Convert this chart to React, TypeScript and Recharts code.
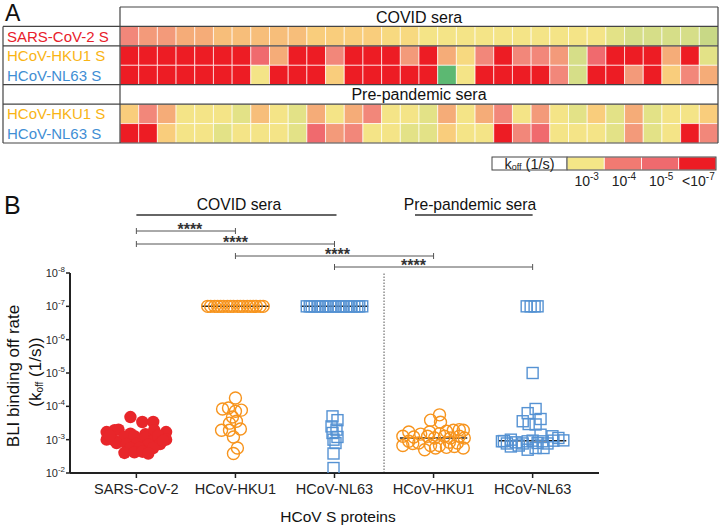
import React from 'react';
import { ScatterChart, Scatter, XAxis, YAxis, ReferenceLine } from 'recharts';

const FONT = '"Liberation Sans", Arial, Helvetica, sans-serif';
const INK = '#222';

// ---------- Panel A: k_off heat map (32 sera per row) ----------
const covidRowLabels = ['SARS-CoV-2 S', 'HCoV-HKU1 S', 'HCoV-NL63 S'];
const covidRowColors = ['#E8202A', '#F9B414', '#3F8ED4'];
const preRowLabels = ['HCoV-HKU1 S', 'HCoV-NL63 S'];
const preRowColors = ['#F9B414', '#3F8ED4'];

// one letter per serum, mapped through cellPalette
const sarsCovidCells = 'PQQOONNNNNLLLLMMYYYYYYYYYYGHHHHJ';
const hku1CovidCells = 'RRRRRRRSORRPRRRQROMPRPPQHSRRRORG';
const nl63CovidCells = 'RRRRRRRYRRRLRRRRRKYRRRRPHRRQRLPO';
const hku1PreCells = 'LPOYYYGNYGOYOPYYGOYOPYQYGLGOGYYL';
const nl63PreCells = 'RRLYYGYYYGSQPYYGGLYYRPSYYYGQGYRP';

const cellPalette: Record<string, string> = {
  R: '#ED1C24',
  S: '#F06A6E',
  P: '#F2877A',
  Q: '#F39A7A',
  O: '#F5AC78',
  N: '#F7BE7A',
  L: '#F9CD7C',
  M: '#F7D980',
  Y: '#F4E487',
  G: '#E3E287',
  H: '#D6DE88',
  J: '#C8D886',
  K: '#5CB872',
};

const koffLegendColors = ['#F4E687', '#F27A72', '#EF6A6E', '#ED1C24'];
const koffLegendExps = ['-3', '-4', '-5', '-7'];
const koffLegendPrefix = ['', '', '', '<'];

// ---------- Panel B: BLI off rates ----------
const groupLabels = ['SARS-CoV-2', 'HCoV-HKU1', 'HCoV-NL63', 'HCoV-HKU1', 'HCoV-NL63'];
const yTicks = [1e-8, 1e-7, 1e-6, 1e-5, 1e-4, 1e-3, 1e-2];

const sarsJitter = [-0.06, 0.06, 0.17, -0.3, -0.22, -0.18, -0.06, 0.09, 0.18, 0.3, -0.3, -0.22, -0.12, -0.02, 0.09, 0.18, 0.22, 0.3, -0.2, -0.1, 0.0, 0.12, 0.24, -0.06, 0.03, 0.17, -0.12, -0.02, 0.06, 0.12, -0.27, 0.27];
const sarsKoff = [2.1e-4, 2.95e-4, 2.95e-4, 5.9e-4, 5.2e-4, 5.0e-4, 6.6e-4, 6.9e-4, 5.2e-4, 5.9e-4, 1.0e-3, 1.07e-3, 8.3e-4, 7.9e-4, 8.9e-4, 1.0e-3, 7.6e-4, 1.0e-3, 1.26e-3, 1.35e-3, 1.35e-3, 1.41e-3, 1.35e-3, 1.78e-3, 1.78e-3, 1.78e-3, 2.5e-3, 2.4e-3, 2.3e-3, 2.6e-3, 7.6e-4, 1.07e-3];

const hku1CovidJitter = [-0.28, -0.25, -0.21, -0.18, -0.15, -0.12, -0.08, -0.05, -0.02, 0.02, 0.05, 0.08, 0.12, 0.15, 0.18, 0.21, 0.25, 0.28, 0.0, -0.13, -0.07, 0.0, 0.06, -0.03, -0.06, 0.01, -0.14, -0.06, 0.05, -0.02, 0.02, -0.02];
const hku1CovidKoff = [1e-7, 1e-7, 1e-7, 1e-7, 1e-7, 1e-7, 1e-7, 1e-7, 1e-7, 1e-7, 1e-7, 1e-7, 1e-7, 1e-7, 1e-7, 1e-7, 1e-7, 1e-7, 5.6e-5, 1.2e-4, 1.12e-4, 1.4e-4, 1.3e-4, 2.1e-4, 3.2e-4, 2.8e-4, 5.2e-4, 5.2e-4, 4.8e-4, 8.3e-4, 1.78e-3, 2.6e-3];

const nl63CovidJitter = [-0.28, -0.25, -0.23, -0.2, -0.17, -0.15, -0.12, -0.09, -0.07, -0.04, -0.01, 0.01, 0.04, 0.07, 0.09, 0.12, 0.15, 0.17, 0.2, 0.23, 0.25, 0.28, -0.02, 0.03, -0.03, 0.02, -0.02, 0.03, -0.01, 0.01, -0.01, -0.01];
const nl63CovidKoff = [1e-7, 1e-7, 1e-7, 1e-7, 1e-7, 1e-7, 1e-7, 1e-7, 1e-7, 1e-7, 1e-7, 1e-7, 1e-7, 1e-7, 1e-7, 1e-7, 1e-7, 1e-7, 1e-7, 1e-7, 1e-7, 1e-7, 2.0e-4, 2.6e-4, 4.0e-4, 5.0e-4, 6.3e-4, 8.3e-4, 1.0e-3, 1.26e-3, 2.6e-3, 7.1e-3];

const hku1PreJitter = [-0.03, 0.06, 0.07, -0.25, -0.13, -0.04, 0.06, 0.13, 0.2, 0.26, 0.3, -0.31, -0.2, -0.06, 0.01, 0.11, 0.17, 0.26, 0.31, -0.31, -0.21, -0.15, -0.03, 0.06, 0.13, 0.21, 0.3, 0.24, -0.09, 0.02, -0.25, 0.16];
const hku1PreKoff = [2.6e-4, 1.8e-4, 3.0e-4, 5.9e-4, 6.8e-4, 5.9e-4, 6.6e-4, 5.6e-4, 5.2e-4, 5.0e-4, 5.2e-4, 7.9e-4, 8.3e-4, 7.9e-4, 8.9e-4, 7.9e-4, 8.9e-4, 7.9e-4, 8.9e-4, 1.5e-3, 1.3e-3, 1.26e-3, 1.5e-3, 1.5e-3, 1.7e-3, 1.6e-3, 1.78e-3, 1.26e-3, 2.0e-3, 1.78e-3, 1.12e-3, 1.2e-3];

const nl63PreJitter = [-0.06, -0.02, 0.02, 0.05, 0.0, 0.03, -0.05, 0.08, -0.1, -0.04, 0.03, 0.08, 0.2, 0.26, 0.31, -0.31, -0.22, -0.17, -0.1, -0.05, 0.0, 0.05, 0.1, 0.15, 0.21, -0.26, -0.22, -0.14, -0.05, 0.03, 0.11, -0.29];
const nl63PreKoff = [1e-7, 1e-7, 1e-7, 1e-7, 1e-5, 1.2e-4, 1.6e-4, 2.4e-4, 2.8e-4, 3.4e-4, 3.5e-4, 7.1e-4, 7.9e-4, 8.9e-4, 1.05e-3, 1.12e-3, 1.0e-3, 1.2e-3, 1.3e-3, 1.12e-3, 1.07e-3, 1.26e-3, 1.12e-3, 1.3e-3, 1.07e-3, 1.3e-3, 1.6e-3, 1.5e-3, 2.0e-3, 1.78e-3, 1.78e-3, 1.1e-3];

const groupMedians = [1.05e-3, 1e-7, 1e-7, 8.9e-4, 1.07e-3];

// significance brackets between groups (1-based group positions)
const sigPairs = [[1, 2], [1, 3], [2, 4], [3, 5]];
const sigLabels = ['****', '****', '****', '****'];

// ---------- layout ----------
const HM_LEFT = 120;
const HM_RIGHT = 718;
const HM_TOP = 7;
const HM_BOTTOM = 143;
const N_COLS = 32;
const N_ROWS = 7;
const CELL_W = (HM_RIGHT - HM_LEFT) / N_COLS;
const CELL_H = (HM_BOTTOM - HM_TOP) / N_ROWS;
const rowMid = (slot: number) => HM_TOP + (slot + 0.5) * CELL_H;
const rowEdge = (slot: number) => HM_TOP + slot * CELL_H;

const B_TOP = 185;
const B_MARGIN = { top: 88, right: 121, bottom: 27, left: 0 };
const X_DOMAIN: [number, number] = [0.33, 5.67];
const PLOT_LEFT = 70;
const PLOT_RIGHT = 720 - B_MARGIN.right;
const PX_PER_UNIT = (PLOT_RIGHT - PLOT_LEFT) / (X_DOMAIN[1] - X_DOMAIN[0]);
const xPix = (v: number) => PLOT_LEFT + (v - X_DOMAIN[0]) * PX_PER_UNIT;

const heatRows = [
  { slot: 1, cells: sarsCovidCells },
  { slot: 2, cells: hku1CovidCells },
  { slot: 3, cells: nl63CovidCells },
  { slot: 5, cells: hku1PreCells },
  { slot: 6, cells: nl63PreCells },
];
const heatData = heatRows.flatMap((row) =>
  row.cells.split('').map((code, col) => ({ x: col + 0.5, y: row.slot + 0.5, fill: cellPalette[code] }))
);

const toPoints = (group: number, jitter: number[], koff: number[]) =>
  koff.map((k, i) => ({ x: group + jitter[i], y: k }));

const sarsPts = toPoints(1, sarsJitter, sarsKoff);
const hku1CovidPts = toPoints(2, hku1CovidJitter, hku1CovidKoff);
const nl63CovidPts = toPoints(3, nl63CovidJitter, nl63CovidKoff);
const hku1PrePts = toPoints(4, hku1PreJitter, hku1PreKoff);
const nl63PrePts = toPoints(5, nl63PreJitter, nl63PreKoff);
const medianPts = groupMedians.map((m, i) => ({ x: i + 1, y: m }));

const HeatCell = (p: any) => (
  <rect
    x={p.cx - CELL_W / 2}
    y={p.cy - CELL_H / 2}
    width={CELL_W}
    height={CELL_H}
    fill={p.payload.fill}
    stroke="#fff"
    strokeOpacity={0.65}
    strokeWidth={1}
  />
);

const RedDot = (p: any) => <circle cx={p.cx} cy={p.cy} r={6.2} fill="#E8262A" />;
const OrangeRing = (p: any) => (
  <circle cx={p.cx} cy={p.cy} r={6} fill="none" stroke="#F7941D" strokeWidth={1.4} />
);
const BlueSquare = (p: any) => (
  <rect x={p.cx - 5.5} y={p.cy - 5.5} width={11} height={11} fill="none" stroke="#5592D3" strokeWidth={1.4} />
);
const MedianBar = (p: any) => (
  <line x1={p.cx - 0.34 * PX_PER_UNIT} x2={p.cx + 0.34 * PX_PER_UNIT} y1={p.cy} y2={p.cy} stroke={INK} strokeWidth={1.5} />
);

const PowerTick = ({ x, y, payload }: any) => {
  const exp = Math.round(Math.log10(payload.value));
  return (
    <text x={x} y={y + 4} textAnchor="end" fontSize={11} fill="#2a2a2a" fontFamily={FONT}>
      10
      <tspan dy={-5} fontSize={8}>
        {exp}
      </tspan>
    </text>
  );
};

const Annotations = () => {
  const line = '#444';
  const hLines = [1, 2, 4, 5, 7];
  const legX = 492;
  const legLabelW = 75;
  const legCellW = (716 - legX - legLabelW) / koffLegendColors.length;
  const starShift = [4, 0, 3, -20];
  const bracketY = [231, 244, 256, 267];
  return (
    <svg width={720} height={530} style={{ position: 'absolute', left: 0, top: 0, pointerEvents: 'none' }} fontFamily={FONT}>
      {/* panel A */}
      <text x={5} y={21} fontSize={23} fill="#111">A</text>
      <line x1={HM_LEFT} x2={HM_RIGHT} y1={HM_TOP} y2={HM_TOP} stroke={line} strokeWidth={1.2} />
      {hLines.map((s) => (
        <line key={s} x1={3} x2={HM_RIGHT} y1={rowEdge(s)} y2={rowEdge(s)} stroke={line} strokeWidth={1.2} />
      ))}
      <line x1={3} x2={3} y1={rowEdge(1)} y2={HM_BOTTOM} stroke={line} strokeWidth={1.2} />
      <line x1={HM_LEFT} x2={HM_LEFT} y1={HM_TOP} y2={HM_BOTTOM} stroke={line} strokeWidth={1.2} />
      <line x1={HM_RIGHT} x2={HM_RIGHT} y1={HM_TOP} y2={HM_BOTTOM} stroke={line} strokeWidth={1.2} />
      <text x={(HM_LEFT + HM_RIGHT) / 2} y={rowMid(0) + 6} textAnchor="middle" fontSize={16} fill="#111">COVID sera</text>
      <text x={(HM_LEFT + HM_RIGHT) / 2} y={rowMid(4) + 6} textAnchor="middle" fontSize={16} fill="#111">Pre-pandemic sera</text>
      {covidRowLabels.map((t, i) => (
        <text key={'c' + i} x={7} y={rowMid(i + 1) + 5.5} fontSize={15} fill={covidRowColors[i]}>{t}</text>
      ))}
      {preRowLabels.map((t, i) => (
        <text key={'p' + i} x={7} y={rowMid(i + 5) + 5.5} fontSize={15} fill={preRowColors[i]}>{t}</text>
      ))}

      {/* k_off legend */}
      <rect x={legX} y={157} width={legLabelW} height={13} fill="#fff" stroke={line} strokeWidth={1} />
      <text x={legX + legLabelW / 2} y={168.5} textAnchor="middle" fontSize={14.5} fill="#222">
        k<tspan fontSize={9} dy={1}>off</tspan>
        <tspan dy={-1}> (1/s)</tspan>
      </text>
      {koffLegendColors.map((c, i) => (
        <rect key={c} x={legX + legLabelW + i * legCellW} y={157} width={legCellW} height={13} fill={c} stroke="#fff" strokeWidth={0.8} />
      ))}
      <rect x={legX + legLabelW} y={157} width={legCellW * 4} height={13} fill="none" stroke={line} strokeWidth={1} />
      {koffLegendExps.map((e, i) => (
        <text key={e} x={legX + legLabelW + (i + 0.5) * legCellW + 1} y={186} textAnchor="middle" fontSize={14} fill="#222">
          {koffLegendPrefix[i]}10<tspan dy={-6} fontSize={10}>{e}</tspan>
        </text>
      ))}

      {/* panel B */}
      <text x={4} y={214} fontSize={25} fill="#111">B</text>
      <text x={239} y={210} textAnchor="middle" fontSize={15.7} fill="#111">COVID sera</text>
      <line x1={xPix(1)} x2={xPix(3) + 2} y1={215} y2={215} stroke="#333" strokeWidth={1.5} />
      <text x={470} y={210} textAnchor="middle" fontSize={15.7} fill="#111">Pre-pandemic sera</text>
      <line x1={415} x2={xPix(5)} y1={215} y2={215} stroke="#333" strokeWidth={1.5} />
      {sigPairs.map(([a, b], i) => {
        const x1 = xPix(a);
        const x2 = xPix(b);
        const y = bracketY[i];
        return (
          <g key={i}>
            <line x1={x1} x2={x2} y1={y} y2={y} stroke="#555" strokeWidth={1} />
            <line x1={x1} x2={x1} y1={y - 3} y2={y + 3} stroke="#555" strokeWidth={1} />
            <line x1={x2} x2={x2} y1={y - 3} y2={y + 3} stroke="#555" strokeWidth={1} />
            <text x={(x1 + x2) / 2 + starShift[i]} y={y + 4} textAnchor="middle" fontSize={16} fontWeight="bold" fill="#333">
              {sigLabels[i]}
            </text>
          </g>
        );
      })}
      <text transform="translate(19,376) rotate(-90)" textAnchor="middle" fontSize={17} fill="#111">
        BLI binding off rate
      </text>
      <text transform="translate(41,372) rotate(-90)" textAnchor="middle" fontSize={17} fill="#111">
        (k<tspan fontSize={10} dy={2}>off</tspan>
        <tspan dy={-2}> (1/s))</tspan>
      </text>
      <text x={338} y={522} textAnchor="middle" fontSize={15.5} fill="#111">HCoV S proteins</text>
    </svg>
  );
};

export default function App() {
  return (
    <div style={{ position: 'absolute', left: 0, top: 0, width: 720, height: 530, background: '#fff', fontFamily: FONT }}>
      <div style={{ position: 'absolute', left: 0, top: 0 }}>
        <ScatterChart width={720} height={150} margin={{ top: HM_TOP, right: 720 - HM_RIGHT, bottom: 150 - HM_BOTTOM, left: HM_LEFT }}>
          <XAxis type="number" dataKey="x" domain={[0, N_COLS]} hide allowDataOverflow />
          <YAxis type="number" dataKey="y" domain={[0, N_ROWS]} reversed hide allowDataOverflow />
          <Scatter data={heatData} shape={HeatCell} isAnimationActive={false} />
        </ScatterChart>
      </div>
      <div style={{ position: 'absolute', left: 0, top: B_TOP }}>
        <ScatterChart width={720} height={345} margin={B_MARGIN}>
          <XAxis
            type="number"
            dataKey="x"
            domain={X_DOMAIN}
            ticks={[1, 2, 3, 4, 5]}
            interval={0}
            allowDataOverflow
            height={30}
            tickFormatter={(v: number) => groupLabels[Math.round(v) - 1]}
            axisLine={{ stroke: INK, strokeWidth: 2 }}
            tickLine={{ stroke: INK, strokeWidth: 1.5 }}
            tickSize={5}
            tickMargin={6}
            tick={{ fontSize: 14.5, fill: INK, fontFamily: FONT }}
          />
          <YAxis
            type="number"
            dataKey="y"
            scale="log"
            domain={[1e-8, 1e-2]}
            reversed
            ticks={yTicks}
            interval={0}
            allowDataOverflow
            width={PLOT_LEFT}
            axisLine={{ stroke: INK, strokeWidth: 2 }}
            tickLine={{ stroke: INK, strokeWidth: 1.5 }}
            tickSize={4}
            tickMargin={1}
            tick={<PowerTick />}
          />
          <ReferenceLine x={3.5} stroke="#555" strokeDasharray="1.5 1.5" />
          <Scatter data={medianPts} shape={MedianBar} isAnimationActive={false} />
          <Scatter data={sarsPts} shape={RedDot} isAnimationActive={false} />
          <Scatter data={hku1CovidPts} shape={OrangeRing} isAnimationActive={false} />
          <Scatter data={nl63CovidPts} shape={BlueSquare} isAnimationActive={false} />
          <Scatter data={hku1PrePts} shape={OrangeRing} isAnimationActive={false} />
          <Scatter data={nl63PrePts} shape={BlueSquare} isAnimationActive={false} />
        </ScatterChart>
      </div>
      <Annotations />
    </div>
  );
}
